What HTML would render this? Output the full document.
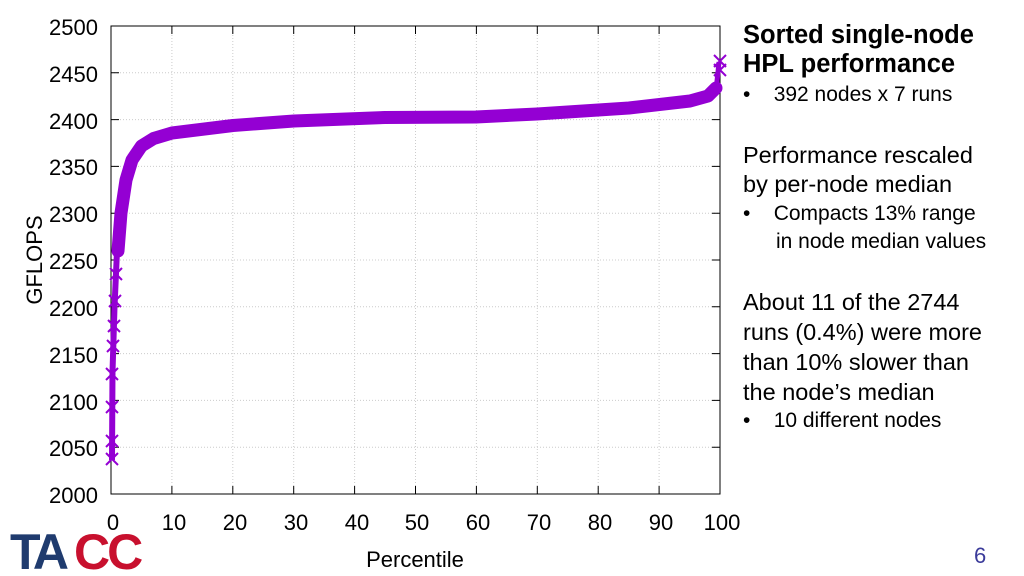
<!DOCTYPE html>
<html><head><meta charset="utf-8"><style>
body{margin:0;width:1024px;height:576px;background:#fff;overflow:hidden;font-family:"Liberation Sans",sans-serif}
.t{position:absolute;left:743px;color:#000;white-space:nowrap}
</style></head><body>
<svg width="1024" height="576" style="position:absolute;left:0;top:0" font-family="Liberation Sans, sans-serif">
<g stroke="#ccc" stroke-dasharray="1,2" stroke-width="1">
<line x1="111" x2="720" y1="72.8" y2="72.8"/><line x1="111" x2="720" y1="119.6" y2="119.6"/><line x1="111" x2="720" y1="166.4" y2="166.4"/><line x1="111" x2="720" y1="213.2" y2="213.2"/><line x1="111" x2="720" y1="260" y2="260"/><line x1="111" x2="720" y1="306.8" y2="306.8"/><line x1="111" x2="720" y1="353.6" y2="353.6"/><line x1="111" x2="720" y1="400.4" y2="400.4"/><line x1="111" x2="720" y1="447.2" y2="447.2"/>
<line y1="26" y2="494" x1="171.9" x2="171.9"/><line y1="26" y2="494" x1="232.8" x2="232.8"/><line y1="26" y2="494" x1="293.7" x2="293.7"/><line y1="26" y2="494" x1="354.6" x2="354.6"/><line y1="26" y2="494" x1="415.5" x2="415.5"/><line y1="26" y2="494" x1="476.4" x2="476.4"/><line y1="26" y2="494" x1="537.3" x2="537.3"/><line y1="26" y2="494" x1="598.2" x2="598.2"/><line y1="26" y2="494" x1="659.1" x2="659.1"/>
</g>
<rect x="111" y="26" width="609" height="468" fill="none" stroke="#000" stroke-width="1"/>
<g stroke="#000"><path d="M111 72.8h8M111 119.6h8M111 166.4h8M111 213.2h8M111 260h8M111 306.8h8M111 353.6h8M111 400.4h8M111 447.2h8M720 72.8h-8M720 119.6h-8M720 166.4h-8M720 213.2h-8M720 260h-8M720 306.8h-8M720 353.6h-8M720 400.4h-8M720 447.2h-8M171.9 494v-8M232.8 494v-8M293.7 494v-8M354.6 494v-8M415.5 494v-8M476.4 494v-8M537.3 494v-8M598.2 494v-8M659.1 494v-8M171.9 26v8M232.8 26v8M293.7 26v8M354.6 26v8M415.5 26v8M476.4 26v8M537.3 26v8M598.2 26v8M659.1 26v8"/></g>
<g font-size="22" fill="#000" text-anchor="end">
<text x="98" y="35">2500</text><text x="98" y="82">2450</text><text x="98" y="129">2400</text><text x="98" y="175">2350</text><text x="98" y="222">2300</text><text x="98" y="269">2250</text><text x="98" y="316">2200</text><text x="98" y="363">2150</text><text x="98" y="410">2100</text><text x="98" y="456">2050</text><text x="98" y="503">2000</text>
</g>
<g font-size="22" fill="#000" text-anchor="middle">
<text x="113" y="530">0</text><text x="174" y="530">10</text><text x="235" y="530">20</text><text x="296" y="530">30</text><text x="357" y="530">40</text><text x="417" y="530">50</text><text x="478" y="530">60</text><text x="539" y="530">70</text><text x="600" y="530">80</text><text x="661" y="530">90</text><text x="722" y="530">100</text>
<text x="415" y="567">Percentile</text>
</g>
<text transform="translate(42,260) rotate(-90)" font-size="22" text-anchor="middle">GFLOPS</text>
<polyline fill="none" stroke="#9400d3" stroke-width="13" stroke-linejoin="round" stroke-linecap="round" points="118,251 121,213 126,180 132,160 141.5,146 153.6,138.5 172,133 233,125.5 294,121 385,117.5 476,117 537,114 629,108 690,101 708,96 716,88"/>
<polyline fill="none" stroke="#9400d3" stroke-width="6" points="112,460 112.5,372 114.5,307 117,251"/>
<polyline fill="none" stroke="#9400d3" stroke-width="5" points="716,90 718,72 719,62"/>
<g stroke="#9400d3" stroke-width="2" fill="none">
<path d="M106 453l12 12M118 453l-12 12M106 435l12 12M118 435l-12 12M106 401l12 12M118 401l-12 12M106 368l12 12M118 368l-12 12M107 340l12 12M119 340l-12 12M108 320l12 12M120 320l-12 12M109 295l12 12M121 295l-12 12M110 268l12 12M122 268l-12 12M714 55l12 12M726 55l-12 12M714 64l12 12M726 64l-12 12"/>
</g>
<text x="10" y="569" font-size="50" font-weight="bold" fill="#1f3b6e" letter-spacing="-4">TA</text>
<text x="74" y="569" font-size="50" font-weight="bold" fill="#c8102e" letter-spacing="-3">CC</text>
<text x="974" y="563" font-size="22" fill="#3b3b9a">6</text>
</svg>
<div class="t" style="top:21px;font-size:25.5px;font-weight:bold;line-height:29px">Sorted single-node<br>HPL performance</div>
<div class="t" style="top:83px;font-size:21px">•&nbsp;&nbsp;&nbsp;&nbsp;392 nodes x 7 runs</div>
<div class="t" style="top:141px;font-size:23.5px;line-height:29px">Performance rescaled<br>by per-node median</div>
<div class="t" style="top:200px;font-size:21px;line-height:28px">•&nbsp;&nbsp;&nbsp;&nbsp;Compacts 13% range<br><span style="padding-left:33px">in node median values</span></div>
<div class="t" style="top:287px;font-size:23.5px;line-height:30px">About 11 of the 2744<br>runs (0.4%) were more<br>than 10% slower than<br>the node’s median</div>
<div class="t" style="top:409px;font-size:21px">•&nbsp;&nbsp;&nbsp;&nbsp;10 different nodes</div>
</body></html>
